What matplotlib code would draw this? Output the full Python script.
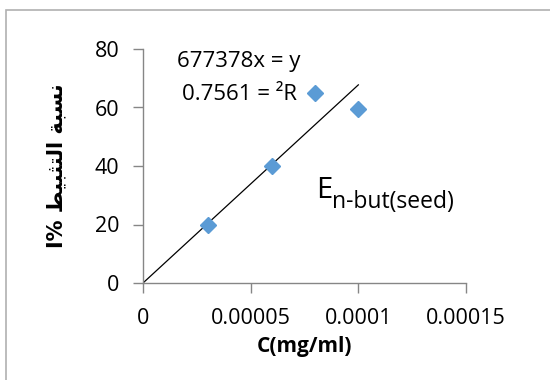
import matplotlib
matplotlib.use("Agg")
import matplotlib.pyplot as plt
from matplotlib.patches import Rectangle
import numpy as np

# concentration (mg/ml) vs. inhibition %
conc = [0.00003, 0.00006, 0.00008, 0.0001]
inhib = [20, 40, 65, 59.5]
slope = 677378
r2 = 0.7561
x_ticks = [0, 0.00005, 0.0001, 0.00015]
x_tick_labels = ["0", "0.00005", "0.0001", "0.00015"]
y_ticks = [0, 20, 40, 60, 80]

# Arabic axis title, pre-shaped (presentation forms, visual order)
y_title = "I% \uFEC2\uFEF4\uFE92\uFE9C\uFE98\uFEDF\uFE8D \uFE94\uFE92\uFEB4\uFEE7"

plt.rcParams["font.family"] = ["Open Sans", "DejaVu Sans"]
grey = "#868686"

fig = plt.figure(figsize=(5.5, 3.8), dpi=100)
fig.patch.set_facecolor("white")
fig.patches.append(Rectangle((6 / 550, -0.1), 1.2, 1 - 10 / 380 + 0.1,
                             transform=fig.transFigure, fill=False,
                             edgecolor="#b0b0b0", linewidth=1.2))

ax = fig.add_axes([143 / 550, 1 - 283 / 380, 323 / 550, 234 / 380])

# trend line through the origin
fit_x = np.array([0, max(conc)])
ax.plot(fit_x, slope * fit_x, color="black", linewidth=0.9, zorder=2)
ax.plot(conc, inhib, linestyle="none", marker="D", markersize=8.5,
        color="#5B9BD5", markeredgecolor="#5B9BD5", zorder=3, clip_on=False)

ax.set_xlim(0, 0.00015)
ax.set_ylim(0, 80)
ax.set_xticks(x_ticks)
ax.set_xticklabels(x_tick_labels)
ax.set_yticks(y_ticks)

for side in ("top", "right"):
    ax.spines[side].set_visible(False)
for side in ("left", "bottom"):
    ax.spines[side].set_color(grey)
    ax.spines[side].set_linewidth(1.0)
ax.tick_params(axis="both", direction="out", length=7, width=1.0,
               color=grey, labelsize=15.5, labelcolor="black")
ax.tick_params(axis="x", pad=11)
ax.tick_params(axis="y", pad=10)

ax.set_xlabel("C(mg/ml)", fontsize=15, fontweight="bold", labelpad=5)
ax.set_ylabel(y_title, family=["DejaVu Sans"], fontsize=15,
              fontweight="bold", labelpad=20)

ax.text(0.0000446, 73.8, f"{slope}x = y", fontsize=16, ha="center", va="baseline")
ax.text(0.0000448, 62.7, f"{r2} = \u00b2R", fontsize=16, ha="center", va="baseline")

ax.text(0.0000803, 29.1, "E", fontsize=21, va="baseline")
ax.text(0.0000878, 25.6, "n-but(seed)", fontsize=16.5, va="baseline")

fig.savefig("out.png", dpi=100, facecolor="white")
